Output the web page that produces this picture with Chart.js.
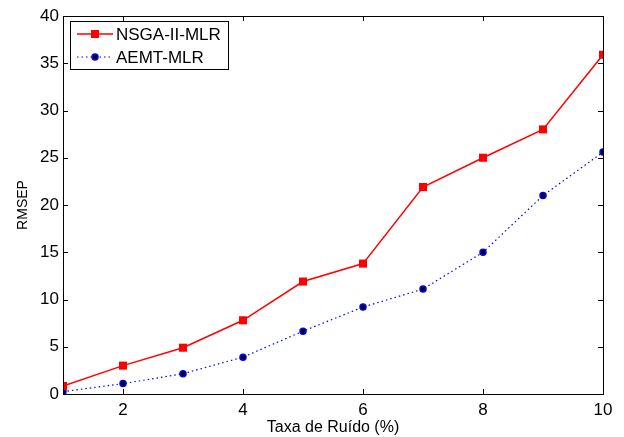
<!DOCTYPE html>
<html>
<head>
<meta charset="utf-8">
<script src="https://cdn.jsdelivr.net/npm/chart.js@4.4.0/dist/chart.umd.min.js"></script>
<style>
  html, body { margin: 0; padding: 0; background: #fff; }
  canvas { display: block; }
</style>
</head>
<body>
<canvas id="rmsepChart" width="624" height="437"></canvas>
<script>
// Noise rates (%) on the x axis
const noiseRates = [1, 2, 3, 4, 5, 6, 7, 8, 9, 10];
const nsgaValues = [0.85, 3.0, 4.9, 7.8, 11.9, 13.8, 21.9, 25.0, 28.0, 35.9];
const aemtValues = [0.25, 1.1, 2.15, 3.9, 6.65, 9.2, 11.1, 15.0, 21.0, 25.6];
const xTicks = [2, 4, 6, 8, 10];
const yTicks = [0, 5, 10, 15, 20, 25, 30, 35, 40];

const FONT = "'Liberation Sans', Arial, sans-serif";

// MATLAB style frame: box on all four sides, ticks pointing inward
const frameTicks = {
  id: "frameTicks",
  afterDraw(chart) {
    const { ctx, chartArea: a, scales } = chart;
    const len = 5;
    ctx.save();
    ctx.strokeStyle = "#000";
    ctx.lineWidth = 1;
    ctx.beginPath();
    xTicks.forEach((v) => {
      const x = Math.round(scales.x.getPixelForValue(v)) + 0.5;
      ctx.moveTo(x, a.bottom); ctx.lineTo(x, a.bottom - len);
      ctx.moveTo(x, a.top); ctx.lineTo(x, a.top + len);
    });
    yTicks.forEach((v) => {
      const y = Math.round(scales.y.getPixelForValue(v)) + 0.5;
      ctx.moveTo(a.left, y); ctx.lineTo(a.left + len, y);
      ctx.moveTo(a.right, y); ctx.lineTo(a.right - len, y);
    });
    ctx.stroke();
    ctx.strokeRect(Math.round(a.left) + 0.5, Math.round(a.top) + 0.5,
      Math.round(a.right - a.left), Math.round(a.bottom - a.top));
    ctx.restore();
  },
};

// Legend box in the upper-left corner, line + marker samples
const boxLegend = {
  id: "boxLegend",
  afterDraw(chart) {
    const { ctx, chartArea: a } = chart;
    const x0 = a.left + 7, y0 = a.top + 5, w = 158, h = 48;
    ctx.save();
    ctx.fillStyle = "#fff";
    ctx.fillRect(x0, y0, w, h);
    ctx.strokeStyle = "#000";
    ctx.lineWidth = 1;
    ctx.strokeRect(x0 + 0.5, y0 + 0.5, w, h);
    ctx.font = "17px " + FONT;
    ctx.textBaseline = "middle";
    chart.data.datasets.forEach((ds, i) => {
      const y = y0 + 13 + i * 23;
      ctx.strokeStyle = ds.borderColor;
      ctx.lineWidth = ds.borderWidth;
      ctx.setLineDash(ds.borderDash || []);
      ctx.beginPath();
      ctx.moveTo(x0 + 7, y); ctx.lineTo(x0 + 43, y);
      ctx.stroke();
      ctx.setLineDash([]);
      const mx = x0 + 25;
      if (ds.pointStyle === "rect") {
        ctx.fillStyle = ds.pointBackgroundColor;
        ctx.fillRect(mx - 4, y - 4, 8, 8);
      } else {
        ctx.fillStyle = ds.pointBackgroundColor;
        ctx.strokeStyle = ds.pointBorderColor;
        ctx.lineWidth = ds.pointBorderWidth;
        ctx.beginPath();
        ctx.arc(mx, y, ds.pointRadius, 0, Math.PI * 2);
        ctx.fill(); ctx.stroke();
      }
      ctx.fillStyle = "#000";
      ctx.fillText(ds.label, x0 + 46, y + 1);
    });
    ctx.restore();
  },
};

new Chart(document.getElementById("rmsepChart"), {
  type: "line",
  data: {
    labels: noiseRates,
    datasets: [
      {
        label: "NSGA-II-MLR",
        data: noiseRates.map((x, i) => ({ x, y: nsgaValues[i] })),
        borderColor: "#ff0000",
        borderWidth: 1.5,
        pointStyle: "rect",
        pointRadius: 5.7,
        pointBackgroundColor: "#ff0000",
        pointBorderColor: "#ff0000",
        pointBorderWidth: 0,
        tension: 0,
      },
      {
        label: "AEMT-MLR",
        data: noiseRates.map((x, i) => ({ x, y: aemtValues[i] })),
        borderColor: "#0000ff",
        borderWidth: 1.2,
        borderDash: [1.5, 3],
        pointStyle: "circle",
        pointRadius: 3,
        pointBackgroundColor: "#000000",
        pointBorderColor: "#0000ff",
        pointBorderWidth: 1.5,
        tension: 0,
      },
    ],
  },
  options: {
    responsive: false,
    animation: false,
    devicePixelRatio: 1,
    layout: { padding: { left: 0, top: 16, right: 21, bottom: 0 } },
    plugins: { legend: { display: false }, tooltip: { enabled: false } },
    scales: {
      x: {
        type: "linear",
        min: 1,
        max: 10,
        afterBuildTicks: (s) => { s.ticks = xTicks.map((v) => ({ value: v })); },
        afterFit: (s) => { s.height = 43; },
        grid: { display: false, drawTicks: false },
        border: { display: false },
        ticks: { color: "#000", padding: 6, font: { family: FONT, size: 17 } },
        title: {
          display: true,
          text: "Taxa de Ruído (%)",
          color: "#000",
          font: { family: FONT, size: 16 },
          padding: { top: 0, bottom: 0 },
        },
      },
      y: {
        min: 0,
        max: 40,
        afterBuildTicks: (s) => { s.ticks = yTicks.map((v) => ({ value: v })); },
        afterFit: (s) => { s.width = 63; },
        grid: { display: false, drawTicks: false },
        border: { display: false },
        ticks: { color: "#000", padding: 4, font: { family: FONT, size: 17 } },
        title: {
          display: true,
          text: "RMSEP",
          color: "#000",
          font: { family: FONT, size: 14 },
          padding: { top: 15, bottom: 0 },
        },
      },
    },
  },
  plugins: [frameTicks, boxLegend],
});
</script>
</body>
</html>
